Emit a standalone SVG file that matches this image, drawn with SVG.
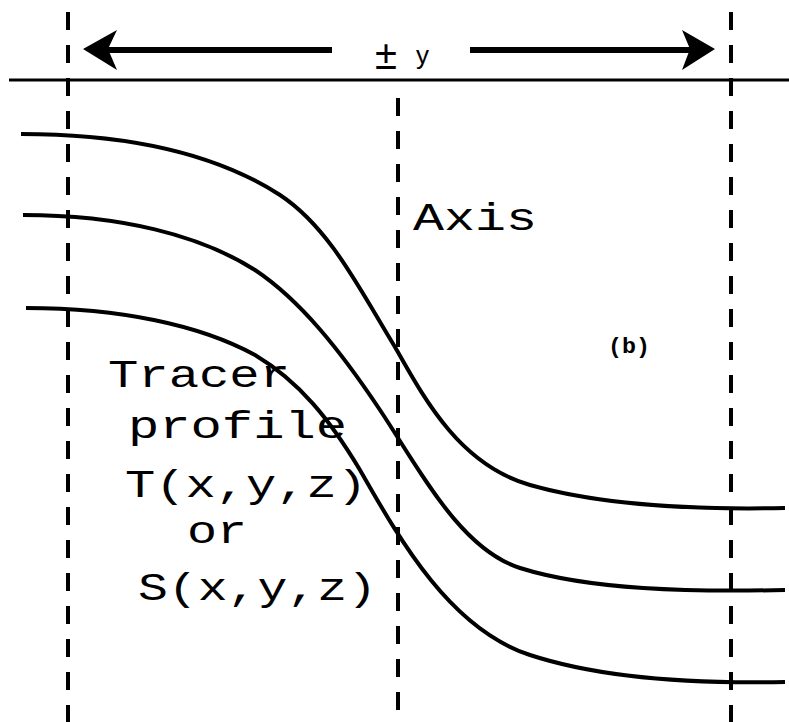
<svg xmlns="http://www.w3.org/2000/svg" width="789" height="722" viewBox="0 0 789 722">
<style>
.dash{stroke:#000;stroke-width:4;stroke-dasharray:18 15;fill:none}
.curve{stroke:#000;stroke-width:4;fill:none}
.lbl{font-family:"Liberation Mono","Courier New",monospace;font-size:38px;fill:#000}
</style>
<rect width="789" height="722" fill="#fff"/>
<g id="connectors">
<line x1="9" y1="80" x2="789" y2="80" stroke="#000" stroke-width="3"/>
<line class="dash" x1="68" y1="12" x2="68" y2="722"/>
<line class="dash" x1="398" y1="98" x2="398" y2="722"/>
<line class="dash" x1="731" y1="12" x2="731" y2="722"/>
<g id="arrow-left">
<line x1="105" y1="50" x2="332" y2="50" stroke="#000" stroke-width="6"/>
<path d="M83,49 L117,30 L108,49 L117,70 Z" fill="#000"/>
</g>
<g id="arrow-right">
<line x1="470" y1="50" x2="694" y2="50" stroke="#000" stroke-width="6"/>
<path d="M715,49 L682,30 L690,49 L682,70 Z" fill="#000"/>
</g>
<path id="curve1" class="curve" d="M21,134 C120,134 210,150 280,195 C330,228 360,290 395,347 C425,400 460,465 530,485 C600,505 690,510 785,508"/>
<path id="curve2" class="curve" d="M23,215 C120,215 200,235 255,270 C300,300 340,350 380,410 C420,470 460,549 520,568 C590,590 690,592 785,590"/>
<path id="curve3" class="curve" d="M26,308 C120,308 200,325 255,355 C300,382 330,420 360,470 C400,540 450,629 530,655 C600,678 690,684 785,682"/>
</g>
<g id="label-pm-y">
<text x="375" y="69" font-family="Liberation Sans, Arial, sans-serif" font-size="40">±</text>
<text x="416" y="64" font-family="Liberation Sans, Arial, sans-serif" font-size="26">y</text>
</g>
<g id="label-axis"><text class="lbl" x="413" y="230" textLength="124" lengthAdjust="spacingAndGlyphs">Axis</text></g>
<g id="label-b"><text x="608" y="353" font-family="Liberation Mono, monospace" font-weight="bold" font-size="22" textLength="42" lengthAdjust="spacingAndGlyphs">(b)</text></g>
<g id="label-tracer">
<text class="lbl" x="108" y="387" textLength="182" lengthAdjust="spacingAndGlyphs">Tracer</text>
<text class="lbl" x="128" y="438" textLength="219" lengthAdjust="spacingAndGlyphs">profile</text>
<text class="lbl" x="125" y="497" textLength="242" lengthAdjust="spacingAndGlyphs">T(x,y,z)</text>
<text class="lbl" x="187" y="543" textLength="60" lengthAdjust="spacingAndGlyphs">or</text>
<text class="lbl" x="138" y="600" textLength="239" lengthAdjust="spacingAndGlyphs">S(x,y,z)</text>
</g>
</svg>
